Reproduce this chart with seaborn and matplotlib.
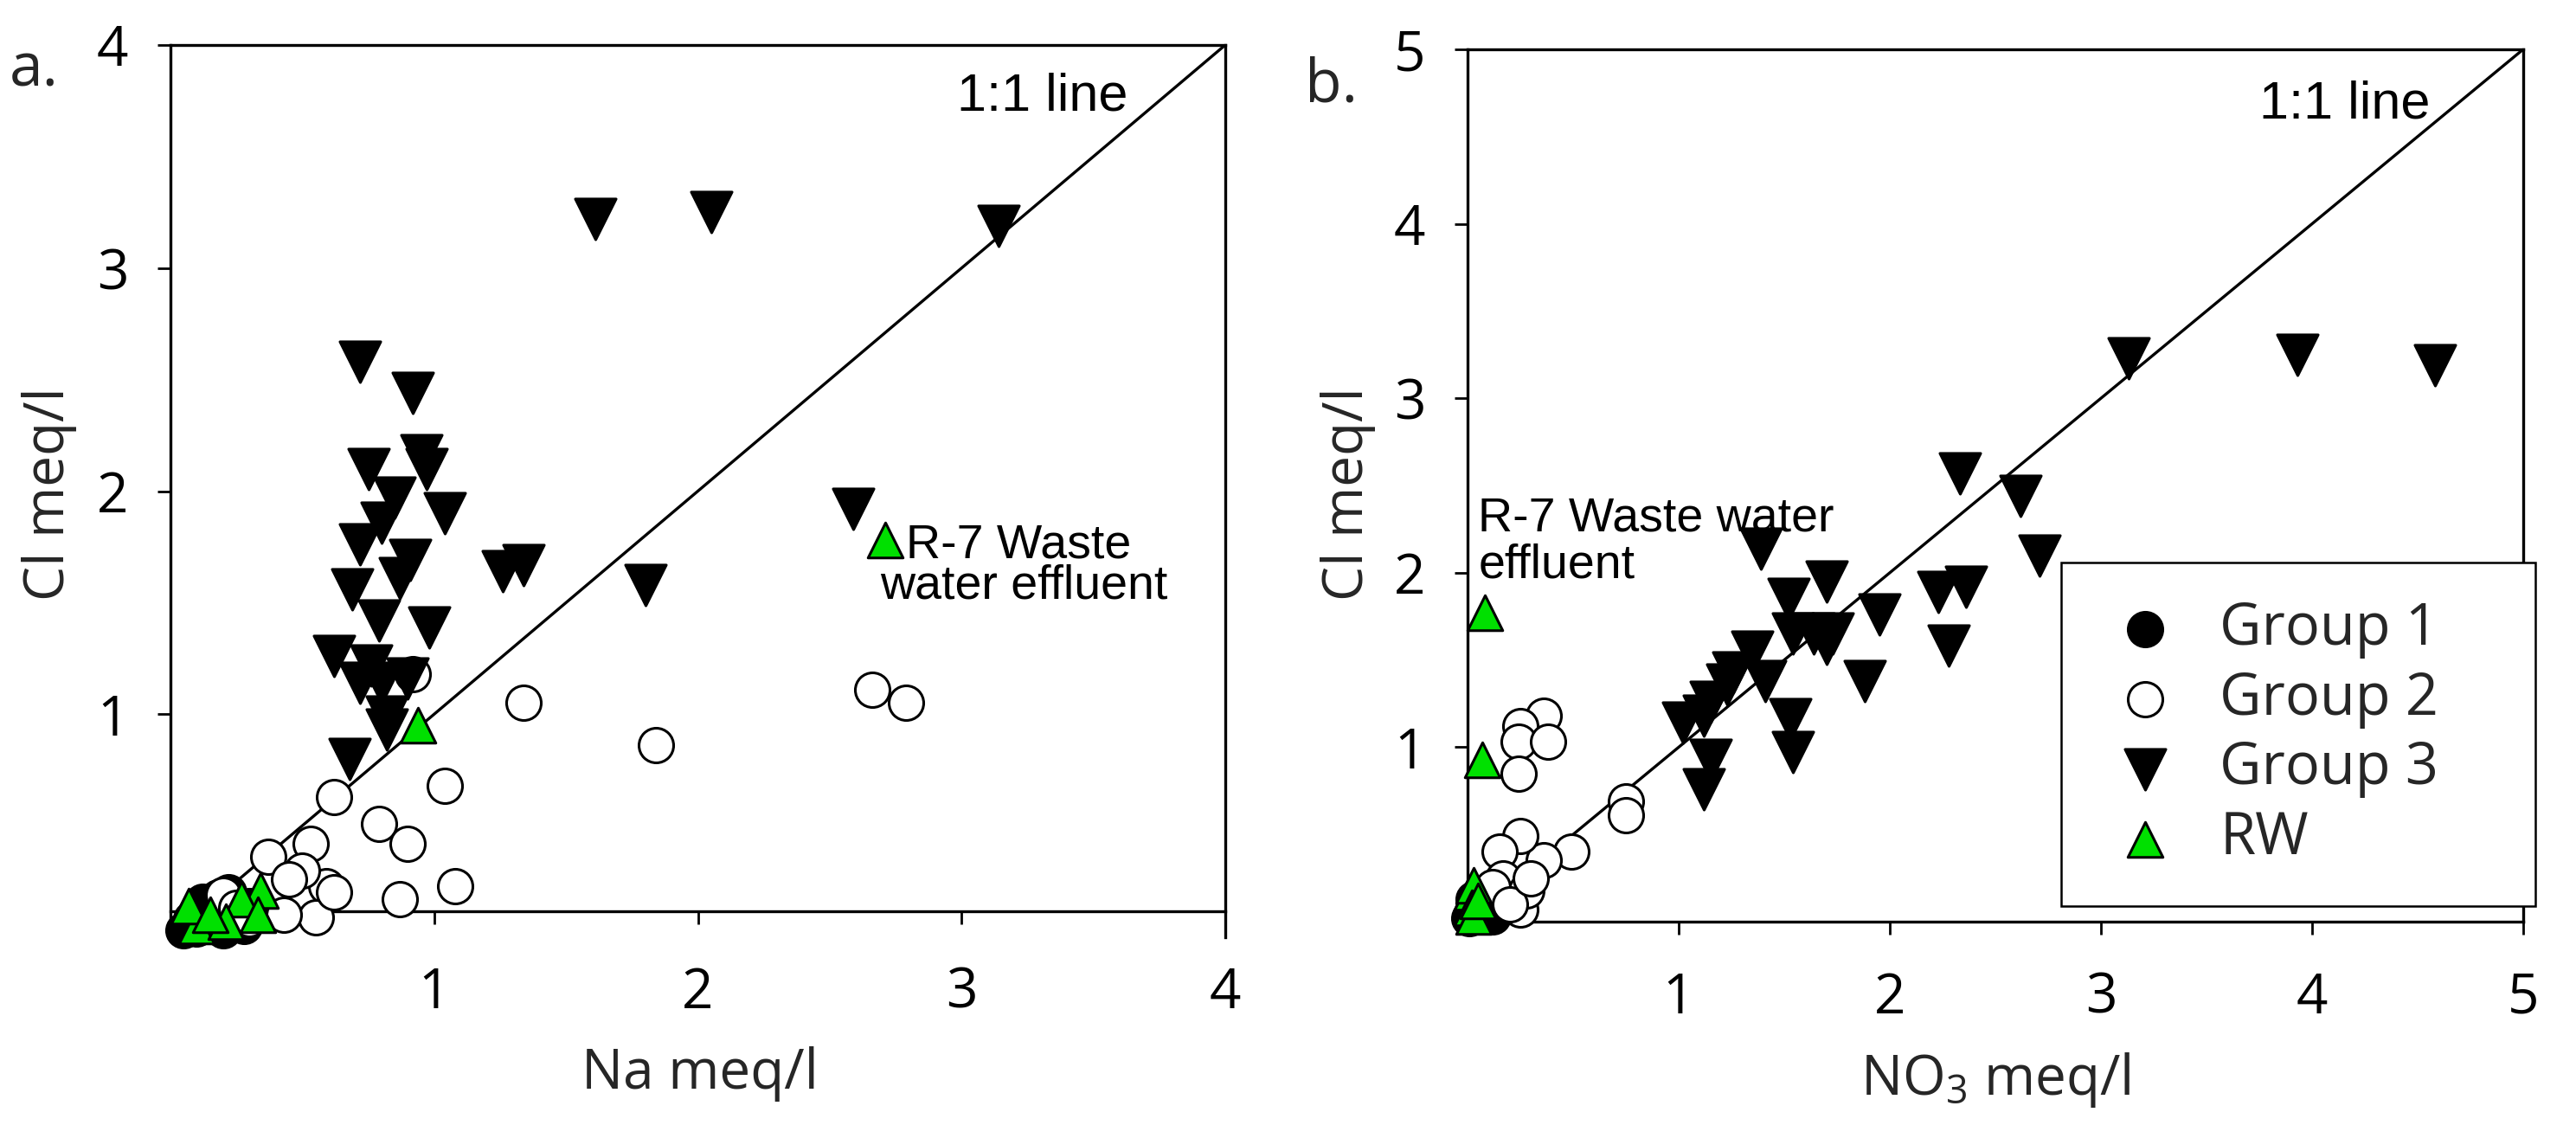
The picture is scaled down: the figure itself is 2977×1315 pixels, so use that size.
import numpy as np
import pandas as pd
import matplotlib
matplotlib.use("Agg")
import matplotlib.pyplot as plt
import seaborn as sns

# ---- panel a : Cl vs Na (meq/l) ----
g1_na = [0.05, 0.07, 0.08, 0.10, 0.12, 0.14, 0.16, 0.18, 0.22, 0.25, 0.28, 0.30, 0.12, 0.20]
g1_cl_a = [0.03, 0.05, 0.08, 0.04, 0.10, 0.06, 0.12, 0.18, 0.20, 0.08, 0.05, 0.14, 0.16, 0.03]

g2_na = [0.92, 1.34, 2.66, 2.79, 1.84, 1.04, 0.62, 0.79, 0.90, 1.08, 0.87, 0.53, 0.37,
         0.51, 0.59, 0.55, 0.43, 0.50, 0.20, 0.45, 0.25, 0.30, 0.62]
g2_cl_a = [1.18, 1.05, 1.11, 1.05, 0.86, 0.68, 0.63, 0.51, 0.42, 0.23, 0.17, 0.42, 0.36,
           0.17, 0.23, 0.09, 0.10, 0.30, 0.19, 0.26, 0.13, 0.08, 0.20]

g3_na = [1.61, 2.05, 3.14, 0.72, 0.92, 0.75, 0.95, 0.97, 0.85, 2.59, 1.04, 0.80, 0.72,
         0.91, 1.34, 1.26, 0.87, 1.80, 0.69, 0.79, 0.98, 0.62, 0.76, 0.72, 0.80, 0.90,
         0.82, 0.82, 0.68]
g3_cl_a = [3.22, 3.25, 3.19, 2.58, 2.44, 2.10, 2.16, 2.10, 1.97, 1.92, 1.90, 1.86, 1.76,
           1.69, 1.67, 1.64, 1.61, 1.58, 1.56, 1.42, 1.39, 1.26, 1.22, 1.14, 1.14, 1.16,
           0.99, 0.93, 0.80]

rw_na = [2.71, 0.94, 0.34, 0.27, 0.33, 0.10, 0.21, 0.07, 0.15]
rw_cl_a = [1.78, 0.95, 0.21, 0.17, 0.10, 0.05, 0.07, 0.14, 0.10]

# ---- panel b : Cl vs NO3 (meq/l) ----
g1_no3 = [0.01, 0.02, 0.03, 0.04, 0.05, 0.06, 0.08, 0.10, 0.03, 0.05, 0.07, 0.12]
g1_cl_b = [0.02, 0.05, 0.08, 0.03, 0.10, 0.06, 0.04, 0.08, 0.13, 0.15, 0.12, 0.03]

g2_no3 = [0.36, 0.25, 0.24, 0.38, 0.24, 0.75, 0.75, 0.49, 0.36, 0.25, 0.15, 0.23, 0.17,
          0.25, 0.28, 0.12, 0.20, 0.30]
g2_cl_b = [1.18, 1.12, 1.03, 1.03, 0.85, 0.69, 0.61, 0.40, 0.35, 0.49, 0.40, 0.13, 0.25,
           0.07, 0.18, 0.20, 0.10, 0.25]

g3_no3 = [3.13, 3.93, 4.58, 2.33, 2.62, 2.71, 2.23, 2.36, 2.28, 1.95, 1.88, 1.39, 1.70,
          1.52, 1.54, 1.64, 1.73, 1.70, 1.35, 1.26, 1.41, 1.23, 1.15, 1.02, 1.12, 1.53,
          1.54, 1.15, 1.12]
g3_cl_b = [3.23, 3.25, 3.19, 2.57, 2.44, 2.10, 1.89, 1.92, 1.58, 1.76, 1.38, 2.14, 1.95,
           1.85, 1.65, 1.65, 1.65, 1.59, 1.55, 1.43, 1.38, 1.36, 1.26, 1.14, 1.18, 1.16,
           0.97, 0.93, 0.76]

rw_no3 = [0.08, 0.07, 0.02, 0.03, 0.02, 0.03, 0.05]
rw_cl_b = [1.77, 0.93, 0.17, 0.21, 0.08, 0.03, 0.12]

groups = ["Group 1", "Group 2", "Group 3", "RW"]
styles = {
    "Group 1": dict(marker="o", s=830, color="black"),
    "Group 2": dict(marker="o", s=830, color="white"),
    "Group 3": dict(marker="v", s=1150, color="black"),
    "RW": dict(marker="^", s=850, color="#00e000"),
}

def make_df(xs, ys):
    rows = []
    for g, x, y in zip(groups, xs, ys):
        rows.append(pd.DataFrame({"x": x, "y": y, "group": g}))
    return pd.concat(rows, ignore_index=True)

df_a = make_df([g1_na, g2_na, g3_na, rw_na], [g1_cl_a, g2_cl_a, g3_cl_a, rw_cl_a])
df_b = make_df([g1_no3, g2_no3, g3_no3, rw_no3], [g1_cl_b, g2_cl_b, g3_cl_b, rw_cl_b])

sns.set_style("ticks")
plt.rcParams["font.family"] = ["Open Sans", "DejaVu Sans"]
plt.rcParams["mathtext.fontset"] = "custom"
plt.rcParams["mathtext.rm"] = "Open Sans"
plt.rcParams["mathtext.it"] = "Open Sans"
plt.rcParams["mathtext.bf"] = "Open Sans"

W, H = 2977, 1315
fig = plt.figure(figsize=(W / 100, H / 100), dpi=100)
ax_a = fig.add_axes([197 / W, 1 - 1083 / H, (1416 - 197) / W, (1083 - 52) / H])
ax_b = fig.add_axes([1696 / W, 1 - 1065 / H, (2916 - 1696) / W, (1065 - 57) / H])

def draw(ax, df, lim):
    ax.axline((0, 0), slope=1, color="black", lw=2.4, zorder=2)
    for g in groups:
        sub = df[df["group"] == g]
        st = styles[g]
        sns.scatterplot(data=sub, x="x", y="y", ax=ax, marker=st["marker"], s=st["s"],
                        color=st["color"], edgecolor="black", linewidth=2.2,
                        clip_on=False, zorder=3, label=g, legend=False)
    ax.set_xlim(0, lim)
    ax.set_ylim(0, lim)
    ticks = list(range(1, lim + 1))
    ax.set_xticks(ticks)
    ax.set_yticks(ticks)
    for sp in ax.spines.values():
        sp.set_linewidth(2.4)
        sp.set_color("black")
        sp.set_visible(True)
    ax.tick_params(axis="both", direction="out", length=11, width=2, labelsize=46,
                   color="black", labelcolor="black")
    ax.tick_params(axis="y", pad=24)

draw(ax_a, df_a, 4)
draw(ax_b, df_b, 5)

# panel a has its x axis line lifted slightly above zero
ax_a.spines["bottom"].set_position(("data", 0.116))
ax_a.tick_params(axis="x", pad=34)
ax_b.tick_params(axis="x", pad=30)

ax_a.set_xlabel("Na meq/l", fontsize=46)
ax_a.set_ylabel("Cl meq/l", fontsize=46)
ax_b.set_xlabel(r"NO$_{\mathregular{3}}$ meq/l", fontsize=46)
ax_b.set_ylabel("Cl meq/l", fontsize=46)
for ax, xl, yl in [(ax_a, (0.502, -0.153), (-0.115, 0.497)),
                   (ax_b, (0.5, -0.182), (-0.113, 0.49))]:
    ax.xaxis.label.set_verticalalignment("center")
    ax.yaxis.label.set_verticalalignment("center")
    ax.xaxis.set_label_coords(*xl)
    ax.yaxis.set_label_coords(*yl)

# annotations
ann = dict(family=["Liberation Sans", "DejaVu Sans"], color="black")
ax_a.text(3.63, 3.706, "1:1 line", ha="right", va="baseline", fontsize=44, **ann)
ax_b.text(4.557, 4.607, "1:1 line", ha="right", va="baseline", fontsize=44, **ann)
ax_a.text(2.79, 1.70, "R-7 Waste", ha="left", va="baseline", fontsize=40, **ann)
ax_a.text(2.69, 1.52, "water effluent", ha="left", va="baseline", fontsize=40, **ann)
ax_b.text(0.05, 2.24, "R-7 Waste water", ha="left", va="baseline", fontsize=40, **ann)
ax_b.text(0.05, 1.97, "effluent", ha="left", va="baseline", fontsize=40, **ann)

fig.text(39 / W, 1 - 100 / H, "a.", ha="center", va="baseline", fontsize=50)
fig.text(1538 / W, 1 - 117 / H, "b.", ha="center", va="baseline", fontsize=50)

leg = ax_b.legend(loc="upper left",
                  bbox_to_anchor=(2382 / W, 1 - 1049 / H, (2930 - 2382) / W, (1049 - 650) / H),
                  bbox_transform=fig.transFigure, mode="expand", borderaxespad=0,
                  fontsize=48, frameon=True, fancybox=False, edgecolor="black",
                  framealpha=1, borderpad=0.65, handlelength=1.6, handletextpad=0.5,
                  labelspacing=0.2, scatterpoints=1)
leg.get_frame().set_linewidth(1.8)
leg.set_zorder(5)

fig.savefig("out.png", dpi=100)
